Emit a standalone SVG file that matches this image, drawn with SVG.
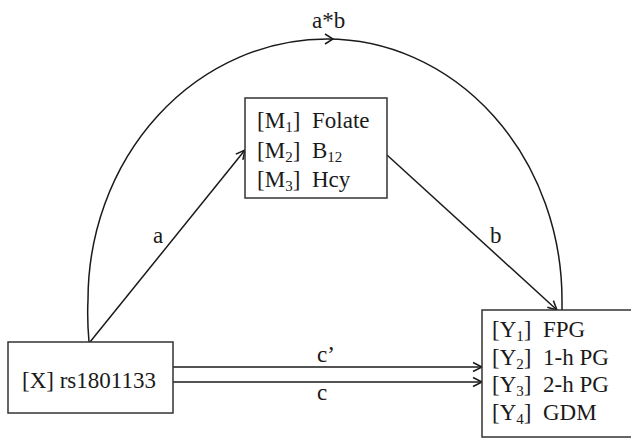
<svg xmlns="http://www.w3.org/2000/svg" width="631" height="441" viewBox="0 0 631 441">
  <style>
    .box { fill: #ffffff; stroke: #333333; stroke-width: 1.5; }
    .edge { fill: none; stroke: #1a1a1a; stroke-width: 1.5; }
    .t { font-family: "Liberation Serif", "Times New Roman", serif; font-size: 23px; fill: #1a1a1a; }
    .sub { font-size: 15px; }
  </style>
  <defs>
    <marker id="arr" markerUnits="userSpaceOnUse" markerWidth="14" markerHeight="14" refX="10" refY="6" orient="auto">
      <path d="M1,1.5 L10,6 L1,10.5" fill="none" stroke="#1a1a1a" stroke-width="1.5"/>
    </marker>
  </defs>
  <rect width="631" height="441" fill="#ffffff"/>

  <g id="connectors">
    <path id="e-ab" class="edge" d="M89,342 Q87,318 88,300 A239 261 0 0 1 327 39 A235 261 0 0 1 562 300 L562,310"/>
    <path class="edge" d="M325,34 L333,39 L325,44"/>
    <line id="e-a" class="edge" x1="90" y1="342" x2="245" y2="150" marker-end="url(#arr)"/>
    <line id="e-b" class="edge" x1="387" y1="155" x2="557" y2="310" marker-end="url(#arr)"/>
    <line id="e-cp" class="edge" x1="173" y1="367" x2="482" y2="367" marker-end="url(#arr)"/>
    <line id="e-c" class="edge" x1="173" y1="382" x2="482" y2="382" marker-end="url(#arr)"/>
    <text class="t" x="312" y="28">a*b</text>
    <text class="t" x="153" y="243">a</text>
    <text class="t" x="490" y="243">b</text>
    <text class="t" x="317" y="362">c’</text>
    <text class="t" x="317" y="400">c</text>
  </g>

  <g id="node-x">
    <rect class="box" x="8" y="342" width="165" height="71"/>
    <text class="t" x="22" y="388">[X] rs1801133</text>
  </g>

  <g id="node-m">
    <rect class="box" x="245" y="98" width="142" height="100"/>
    <text class="t" x="257" y="128">[M<tspan class="sub" dy="4">1</tspan><tspan dy="-4">]</tspan></text>
    <text class="t" x="312" y="128">Folate</text>
    <text class="t" x="257" y="157.5">[M<tspan class="sub" dy="4">2</tspan><tspan dy="-4">]</tspan></text>
    <text class="t" x="312" y="157.5">B<tspan class="sub" dy="4">12</tspan></text>
    <text class="t" x="257" y="187">[M<tspan class="sub" dy="4">3</tspan><tspan dy="-4">]</tspan></text>
    <text class="t" x="312" y="187">Hcy</text>
  </g>

  <g id="node-y">
    <rect class="box" x="482" y="310" width="150" height="127"/>
    <text class="t" x="492" y="337">[Y<tspan class="sub" dy="4">1</tspan><tspan dy="-4">]</tspan></text>
    <text class="t" x="543" y="337">FPG</text>
    <text class="t" x="492" y="365">[Y<tspan class="sub" dy="4">2</tspan><tspan dy="-4">]</tspan></text>
    <text class="t" x="543" y="365">1-h PG</text>
    <text class="t" x="492" y="392">[Y<tspan class="sub" dy="4">3</tspan><tspan dy="-4">]</tspan></text>
    <text class="t" x="543" y="392">2-h PG</text>
    <text class="t" x="492" y="420">[Y<tspan class="sub" dy="4">4</tspan><tspan dy="-4">]</tspan></text>
    <text class="t" x="543" y="420">GDM</text>
  </g>
</svg>
